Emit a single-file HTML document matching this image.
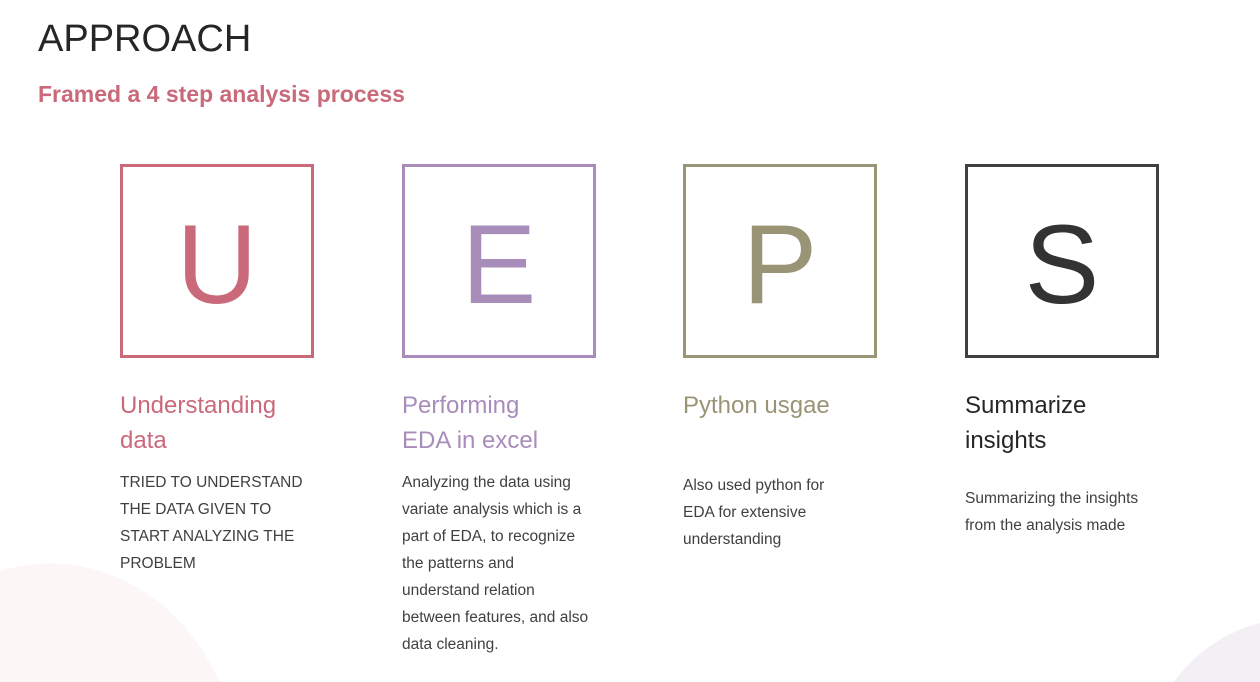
<!DOCTYPE html>
<html><head><meta charset="utf-8"><style>
html,body{margin:0;width:1260px;height:682px;overflow:hidden}
body{background:#fff;font-family:"Liberation Sans",sans-serif}
#w{position:relative;width:1260px;height:682px;overflow:hidden}
.a{position:absolute}
.box{position:absolute;top:164px;width:188px;border:3px solid;display:flex;align-items:center;justify-content:center;font-size:112px;line-height:1;padding-top:8px;box-sizing:content-box;height:180px}
.t{position:absolute;top:388px;font-size:24px;line-height:35px}
.b{position:absolute;font-size:15.5px;line-height:27px;color:#404040}
</style></head><body><div id="w">
<svg class="a" style="left:0;top:0" width="1260" height="682">
<path d="M0,682 L0,571 A190,217 0 0 1 219.5,682 Z" fill="#fdf6f6"/>
<path d="M1173.6,682 A155,152 0 0 1 1260,623 L1260,682 Z" fill="#f2f0f5"/>
</svg>
<div class="a" style="left:38px;top:18px;font-size:38px;color:#262626">APPROACH</div>
<div class="a" style="left:38px;top:81px;font-size:23px;font-weight:bold;color:#c9697a">Framed a 4 step analysis process</div>

<div class="box" style="left:120px;border-color:#c9697a;color:#c9697a">U</div>
<div class="box" style="left:402px;border-color:#a88cba;color:#a88cba">E</div>
<div class="box" style="left:683px;border-color:#9a9476;color:#9a9476">P</div>
<div class="box" style="left:965px;border-color:#404040;color:#333">S</div>

<div class="t" style="left:120px;color:#c9697a">Understanding<br>data</div>
<div class="t" style="left:402px;color:#a88cba">Performing<br>EDA in excel</div>
<div class="t" style="left:683px;color:#9a9476">Python usgae</div>
<div class="t" style="left:965px;color:#262626">Summarize<br>insights</div>

<div class="b" style="left:120px;top:469px">TRIED TO UNDERSTAND<br>THE DATA GIVEN TO<br>START ANALYZING THE<br>PROBLEM</div>
<div class="b" style="left:402px;top:469px">Analyzing the data using<br>variate analysis which is a<br>part of EDA, to recognize<br>the patterns and<br>understand relation<br>between features, and also<br>data cleaning.</div>
<div class="b" style="left:683px;top:472px">Also used python for<br>EDA for extensive<br>understanding</div>
<div class="b" style="left:965px;top:485px">Summarizing the insights<br>from the analysis made</div>
</div></body></html>
